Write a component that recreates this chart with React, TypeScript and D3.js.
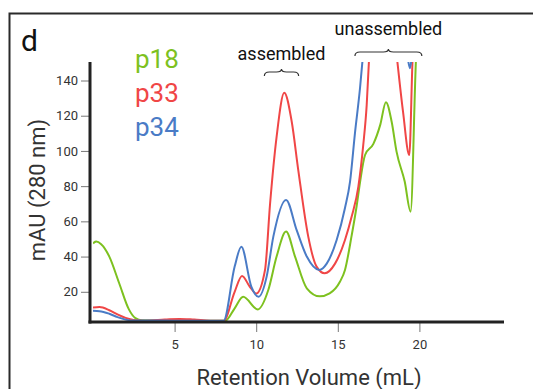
import { useRef, useEffect } from 'react';
import * as d3 from 'd3';

const seriesNames = ['p18', 'p33', 'p34'];
const seriesColors = ['#7dc11f', '#f04646', '#4a7bc6'];

const volumeTicks = [5, 10, 15, 20];
const mauTicks = [20, 40, 60, 80, 100, 120, 140];

const p18Volume = [0, 0.2, 0.5, 1.0, 1.6, 2.2, 2.6, 3.0, 5.0, 8.1, 8.68, 9.2, 10.1, 10.74, 11.25, 11.83, 12.38, 13.1, 13.9, 14.5, 15.13, 15.44, 15.85, 16.16, 16.36, 16.67, 17.18, 17.6, 17.95, 18.3, 18.6, 19.1, 19.46, 19.8, 19.9];
const p18Mau = [47.5, 48.5, 47, 40, 25, 10, 5, 3.8, 3.7, 3.5, 10.6, 17.2, 10, 21, 40, 54.2, 40, 22, 17.4, 19.1, 25.7, 32.4, 52, 69, 82, 97.7, 104, 114.8, 127.7, 116.6, 99.6, 82.6, 65.5, 154, 170];

const p33Volume = [0, 0.4, 1.0, 1.5, 2.0, 2.5, 3.2, 4.4, 5.3, 6.2, 7.2, 8.0, 8.68, 9.13, 9.6, 10.0, 10.54, 10.85, 11.25, 11.72, 12.17, 12.58, 13.19, 13.7, 14.2, 14.83, 15.44, 15.85, 16.26, 16.56, 16.77, 16.93, 17.5, 18.1, 18.6, 19.0, 19.38, 19.59, 19.7];
const p33Mau = [11, 11.3, 9.5, 7.2, 5.2, 4, 3.6, 4.2, 4.6, 4.2, 3.6, 3.5, 20, 29, 23, 19, 32.4, 70, 108, 133, 117, 89, 51.3, 34.3, 30.5, 36, 49.4, 62.7, 79.7, 103.4, 126, 155, 200, 200, 155, 122, 97.7, 154, 170];

const p34Volume = [0, 0.4, 1.0, 1.5, 2.0, 2.5, 5.0, 8.0, 8.68, 9.09, 9.7, 10.15, 10.64, 11.05, 11.83, 12.48, 13.1, 13.87, 14.32, 14.93, 15.44, 15.75, 16.05, 16.36, 16.55, 17.5, 18.5, 19.25, 19.42, 19.55, 19.8];
const p34Mau = [9.2, 9, 7.5, 5.6, 4.2, 3.7, 3.6, 3.5, 34.3, 45.6, 23, 17.2, 28.6, 51.3, 72.2, 55, 40, 32.4, 36, 49.4, 67.6, 82.6, 110, 135.6, 155, 200, 200, 155, 147, 155, 180];

const seriesVolumes = [p18Volume, p33Volume, p34Volume];
const seriesMau = [p18Mau, p33Mau, p34Mau];

// brace annotations (retention volume ranges)
const braceLabels = ['assembled', 'unassembled'];
const braceRanges = [[10.5, 12.6], [16.05, 20.15]];

export default function App() {
    const svgRef = useRef<SVGSVGElement>(null);

    useEffect(() => {
        const node = svgRef.current;
        if (!node) return;
        const svg = d3.select(node);
        svg.selectAll('*').remove();

        const x = d3.scaleLinear().domain([0, 25]).range([93, 501]);
        const y = d3.scaleLinear().domain([0, 140]).range([327, 80.5]);
        const axisY = 322;
        const plotTop = 62;

        // frame
        svg.append('path')
            .attr('d', 'M9.5,389 L9.5,13.5 L533,13.5')
            .attr('fill', 'none')
            .attr('stroke', '#2a2a2a')
            .attr('stroke-width', 2);

        svg.append('text')
            .attr('x', 21)
            .attr('y', 51)
            .style('font-size', '30px')
            .style('fill', '#111')
            .text('d');

        // clip for traces
        svg.append('clipPath')
            .attr('id', 'plot-clip')
            .append('rect')
            .attr('x', x(0))
            .attr('y', plotTop)
            .attr('width', x(25) - x(0))
            .attr('height', axisY - plotTop);

        const line = d3.line<[number, number]>()
            .x(d => x(d[0]))
            .y(d => y(d[1]))
            .curve(d3.curveMonotoneX);

        const traces = svg.append('g').attr('clip-path', 'url(#plot-clip)');
        seriesNames.forEach((name, i) => {
            const pts = seriesVolumes[i].map((v, j) => [v, seriesMau[i][j]] as [number, number]);
            traces.append('path')
                .datum(pts)
                .attr('d', line)
                .attr('fill', 'none')
                .attr('stroke', seriesColors[i])
                .attr('stroke-width', 2)
                .attr('stroke-linejoin', 'round');
        });

        // y axis
        const yAxis = svg.append('g')
            .attr('transform', 'translate(90,0)')
            .call(d3.axisLeft(y).tickValues(mauTicks).tickSize(9).tickPadding(3).tickSizeOuter(0));
        yAxis.select('.domain').remove();
        yAxis.selectAll('line').attr('stroke', '#777').attr('stroke-width', 1);
        yAxis.selectAll('text')
            .style('font-family', 'Roboto, sans-serif')
            .style('font-size', '13px')
            .attr('fill', '#333');

        // x axis
        const xAxis = svg.append('g')
            .attr('transform', `translate(0,${axisY})`)
            .call(d3.axisBottom(x).tickValues(volumeTicks).tickSize(10).tickPadding(8).tickSizeOuter(0));
        xAxis.select('.domain').remove();
        xAxis.selectAll('line').attr('stroke', '#777').attr('stroke-width', 1);
        xAxis.selectAll('text')
            .style('font-family', 'Roboto, sans-serif')
            .style('font-size', '13px')
            .attr('fill', '#333');

        svg.append('line')
            .attr('x1', 90).attr('x2', 90)
            .attr('y1', plotTop).attr('y2', axisY + 1.5)
            .attr('stroke', '#222').attr('stroke-width', 3);
        svg.append('line')
            .attr('x1', 88.5).attr('x2', 504)
            .attr('y1', axisY).attr('y2', axisY)
            .attr('stroke', '#222').attr('stroke-width', 3);

        // axis titles
        svg.append('text')
            .attr('transform', 'translate(45,190) rotate(-90)')
            .attr('text-anchor', 'middle')
            .style('font-family', 'Roboto, sans-serif')
            .style('font-size', '22px')
            .style('fill', '#333')
            .text('mAU (280 nm)');

        svg.append('text')
            .attr('x', 309)
            .attr('y', 385)
            .attr('text-anchor', 'middle')
            .style('font-family', 'Roboto, sans-serif')
            .style('font-size', '22px')
            .style('fill', '#333')
            .text('Retention Volume (mL)');

        // legend
        seriesNames.forEach((name, i) => {
            svg.append('text')
                .attr('x', 135)
                .attr('y', 68 + i * 34)
                .style('font-family', 'Roboto, sans-serif')
                .style('font-size', '26px')
                .style('fill', seriesColors[i])
                .text(name);
        });

        // braces
        const braceY = [72, 52];
        const labelY = [59.5, 35];
        const brace = (x1: number, x2: number, yb: number) => {
            const m = (x1 + x2) / 2;
            const h = 4;
            return `M${x1},${yb + h} Q${x1},${yb} ${x1 + 5},${yb} L${m - 5},${yb} Q${m},${yb} ${m},${yb - h + 1}` +
                ` Q${m},${yb} ${m + 5},${yb} L${x2 - 5},${yb} Q${x2},${yb} ${x2},${yb + h}`;
        };
        braceLabels.forEach((label, i) => {
            const [a, b] = braceRanges[i];
            svg.append('path')
                .attr('d', brace(x(a), x(b), braceY[i]))
                .attr('fill', 'none')
                .attr('stroke', '#333')
                .attr('stroke-width', 1.2);
            svg.append('text')
                .attr('x', (x(a) + x(b)) / 2)
                .attr('y', labelY[i])
                .attr('text-anchor', 'middle')
                .style('font-family', 'Roboto, sans-serif')
                .style('font-size', '18px')
                .style('fill', '#111')
                .text(label);
        });
    }, []);

    return (
        <svg
            ref={svgRef}
            width={533}
            height={389}
            style={{ position: 'absolute', left: 0, top: 0, background: '#fff', fontFamily: 'Roboto, sans-serif' }}
        />
    );
}
